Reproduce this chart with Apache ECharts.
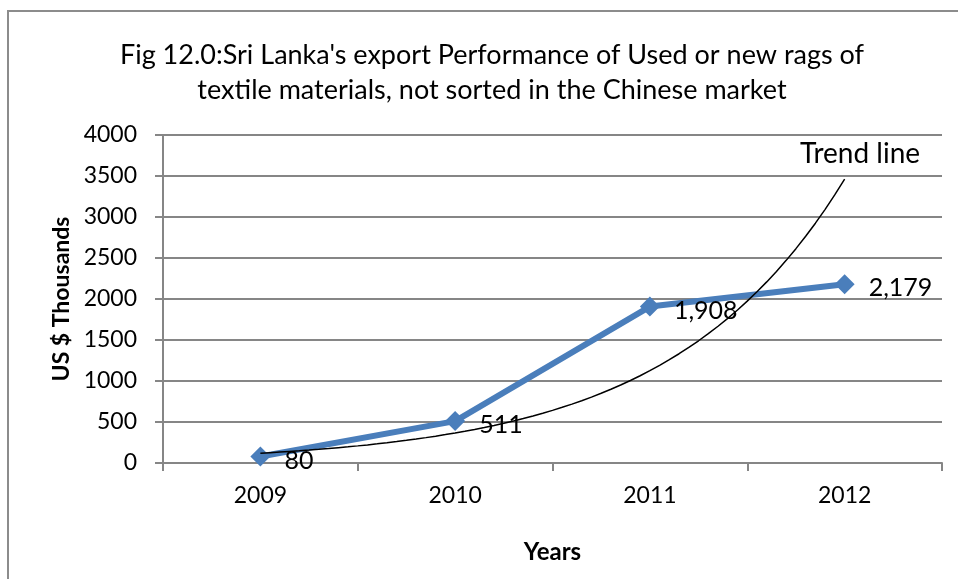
<!DOCTYPE html>
<html>
<head>
<meta charset="utf-8">
<script src="https://cdn.jsdelivr.net/npm/echarts@6/dist/echarts.min.js"></script>
<style>
  html, body { margin: 0; padding: 0; background: #fff; }
  #chart { width: 958px; height: 579px; }
</style>
</head>
<body>
<div id="chart"></div>
<script>
// Export values, US $ thousands
const years = ['2009', '2010', '2011', '2012'];
const exports = [80, 511, 1908, 2179];
const dataLabels = ['80', '511', '1,908', '2,179'];
const yTicks = [0, 500, 1000, 1500, 2000, 2500, 3000, 3500, 4000];

// Exponential trend line (least squares on ln y), as a spreadsheet trendline draws it
function expFit(vals) {
  const n = vals.length;
  const xs = vals.map((_, i) => i);
  const ys = vals.map(v => Math.log(v));
  const mx = xs.reduce((a, b) => a + b, 0) / n;
  const my = ys.reduce((a, b) => a + b, 0) / n;
  let sxy = 0, sxx = 0;
  for (let i = 0; i < n; i++) { sxy += (xs[i] - mx) * (ys[i] - my); sxx += (xs[i] - mx) ** 2; }
  const b = sxy / sxx;
  const a = my - b * mx;
  return x => Math.exp(a + b * x);
}
const trendFn = expFit(exports);
const trendPts = [];
for (let i = 0; i <= 60; i++) {
  const x = 3 * i / 60;
  trendPts.push([x, trendFn(x)]);
}

const font = 'Lato, "Open Sans", sans-serif';
const chart = echarts.init(document.getElementById('chart'));
chart.setOption({
  animation: false,
  backgroundColor: '#fff',
  title: {
    text: "Fig 12.0:Sri Lanka's export Performance of Used or new rags of\ntextile materials, not sorted in the Chinese market",
    left: 487, top: 33, textAlign: 'center',
    textStyle: { fontFamily: font, fontSize: 27, fontWeight: 'normal', color: '#000', lineHeight: 35 }
  },
  graphic: [
    { type: 'rect', shape: { x: 8, y: 11, width: 1000, height: 700 },
      style: { fill: null, stroke: '#8c8c8c', lineWidth: 2 }, silent: true },
    { type: 'text', left: 800, top: 140,
      style: { text: 'Trend line', font: '28px ' + font, fill: '#000' } }
  ],
  grid: { left: 163, right: 16, top: 135, bottom: 116 },
  xAxis: [
    {
      type: 'category', data: years, boundaryGap: true,
      axisLine: { lineStyle: { color: '#868686', width: 2 } },
      axisTick: { show: true, length: 8, lineStyle: { color: '#868686', width: 2 } },
      axisLabel: { fontFamily: font, fontSize: 23, color: '#000', margin: 21 },
      name: 'Years', nameLocation: 'middle', nameGap: 77,
      nameTextStyle: { fontFamily: font, fontSize: 24, fontWeight: 'bold', color: '#000' }
    },
    { type: 'value', min: -0.5, max: 3.5, show: false }
  ],
  yAxis: {
    type: 'value', min: 0, max: 4000, interval: 500,
    axisLine: { show: true, onZero: false, lineStyle: { color: '#868686', width: 2 } },
    axisTick: { show: true, length: 8, lineStyle: { color: '#868686', width: 2 } },
    splitLine: { lineStyle: { color: '#868686', width: 2 } },
    axisLabel: { fontFamily: font, fontSize: 23, color: '#000', margin: 26,
      formatter: v => yTicks.includes(v) ? String(v) : '' },
    name: 'US $ Thousands', nameLocation: 'middle', nameGap: 89,
    nameTextStyle: { fontFamily: font, fontSize: 23, fontWeight: 'bold', color: '#000' }
  },
  series: [
    {
      type: 'line', data: exports, xAxisIndex: 0,
      symbol: 'diamond', symbolSize: 20,
      lineStyle: { color: '#4a7ebb', width: 6 },
      itemStyle: { color: '#4a7ebb' },
      label: {
        show: true, position: 'right', distance: 14, offset: [0, 4],
        fontFamily: font, fontSize: 25, color: '#000',
        formatter: p => dataLabels[p.dataIndex]
      },
      z: 2
    },
    {
      type: 'line', data: trendPts, xAxisIndex: 1,
      showSymbol: false, symbol: 'none', smooth: false,
      lineStyle: { color: '#000', width: 1.5 },
      z: 3
    }
  ]
});
</script>
</body>
</html>
